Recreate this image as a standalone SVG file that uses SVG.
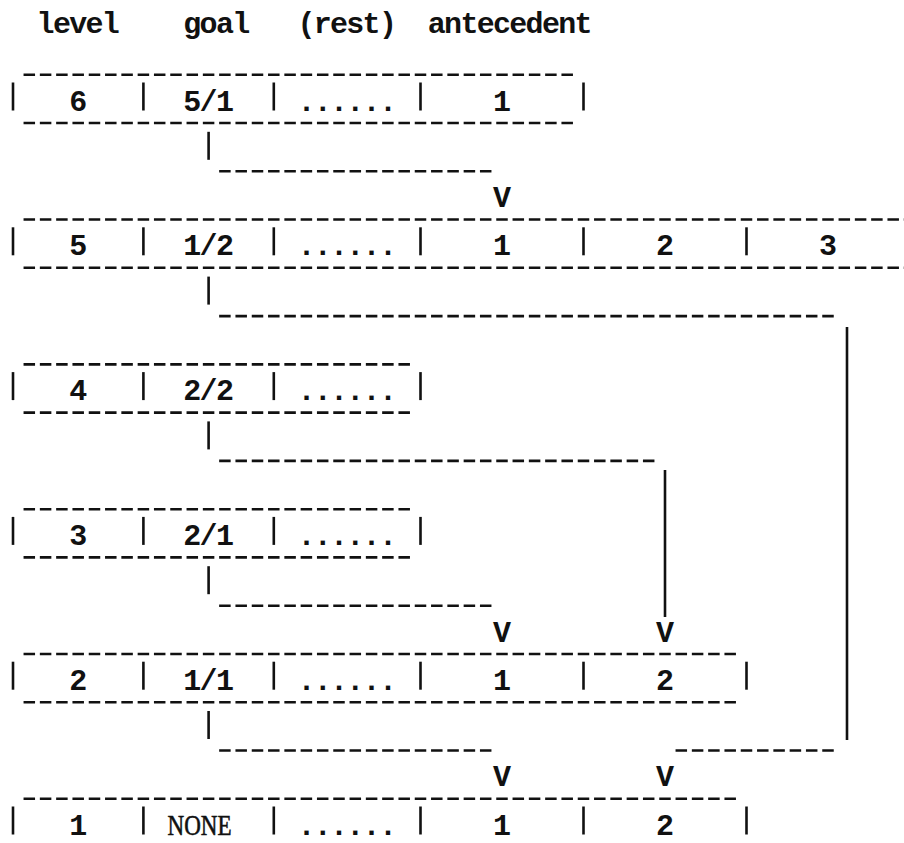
<svg xmlns="http://www.w3.org/2000/svg" width="904" height="843" viewBox="0 0 904 843">
  <style>
    .t { font-family: "Liberation Mono", "Courier New", monospace; font-size: 30px; font-weight: bold; letter-spacing: -1.7px; fill: #111; }
    .s { font-family: "Liberation Serif", "Times New Roman", serif; font-size: 29px; fill: #111; stroke: #111; stroke-width: 0.6; }
    .d { stroke: #111; stroke-width: 2.6; stroke-dasharray: 11.5 4.8; fill: none; }
    .b { stroke: #111; stroke-width: 2.6; fill: none; }
  </style>
  <rect width="904" height="843" fill="#fff"/>

  <!-- column headings -->
  <g id="header">
    <text class="t" x="36.6" y="33">level</text>
    <text class="t" x="183.3" y="33">goal</text>
    <text class="t" x="297.4" y="33">(rest)</text>
    <text class="t" x="427.8" y="33">antecedent</text>
  </g>

  <!-- level 6 -->
  <g id="level-6">
    <line class="d" x1="23.55" y1="74.7" x2="572.95" y2="74.7"/>
    <line class="d" x1="23.55" y1="123" x2="572.95" y2="123"/>
    <line class="b" x1="13" y1="82.5" x2="13" y2="110.5"/>
    <line class="b" x1="143.4" y1="82.5" x2="143.4" y2="110.5"/>
    <line class="b" x1="273.8" y1="82.5" x2="273.8" y2="110.5"/>
    <line class="b" x1="420.5" y1="82.5" x2="420.5" y2="110.5"/>
    <line class="b" x1="583.5" y1="82.5" x2="583.5" y2="110.5"/>
    <text class="t" x="69.2" y="110.5">6</text>
    <text class="t" x="183.3" y="110.5">5/1</text>
    <text class="t" x="297.4" y="110.5">......</text>
    <text class="t" x="493" y="110.5">1</text>
  </g>

  <!-- level 5 -->
  <g id="level-5">
    <line class="d" x1="23.55" y1="219.5" x2="904" y2="219.5"/>
    <line class="d" x1="23.55" y1="267.8" x2="904" y2="267.8"/>
    <line class="b" x1="13" y1="227.3" x2="13" y2="255.3"/>
    <line class="b" x1="143.4" y1="227.3" x2="143.4" y2="255.3"/>
    <line class="b" x1="273.8" y1="227.3" x2="273.8" y2="255.3"/>
    <line class="b" x1="420.5" y1="227.3" x2="420.5" y2="255.3"/>
    <line class="b" x1="583.5" y1="227.3" x2="583.5" y2="255.3"/>
    <line class="b" x1="746.5" y1="227.3" x2="746.5" y2="255.3"/>
    <text class="t" x="69.2" y="255.3">5</text>
    <text class="t" x="183.3" y="255.3">1/2</text>
    <text class="t" x="297.4" y="255.3">......</text>
    <text class="t" x="493" y="255.3">1</text>
    <text class="t" x="656" y="255.3">2</text>
    <text class="t" x="819" y="255.3">3</text>
  </g>

  <!-- level 4 -->
  <g id="level-4">
    <line class="d" x1="23.55" y1="364.4" x2="409.95" y2="364.4"/>
    <line class="d" x1="23.55" y1="412.6" x2="409.95" y2="412.6"/>
    <line class="b" x1="13" y1="372.1" x2="13" y2="400.1"/>
    <line class="b" x1="143.4" y1="372.1" x2="143.4" y2="400.1"/>
    <line class="b" x1="273.8" y1="372.1" x2="273.8" y2="400.1"/>
    <line class="b" x1="420.5" y1="372.1" x2="420.5" y2="400.1"/>
    <text class="t" x="69.2" y="400.1">4</text>
    <text class="t" x="183.3" y="400.1">2/2</text>
    <text class="t" x="297.4" y="400.1">......</text>
  </g>

  <!-- level 3 -->
  <g id="level-3">
    <line class="d" x1="23.55" y1="509.2" x2="409.95" y2="509.2"/>
    <line class="d" x1="23.55" y1="557.4" x2="409.95" y2="557.4"/>
    <line class="b" x1="13" y1="516.9" x2="13" y2="544.9"/>
    <line class="b" x1="143.4" y1="516.9" x2="143.4" y2="544.9"/>
    <line class="b" x1="273.8" y1="516.9" x2="273.8" y2="544.9"/>
    <line class="b" x1="420.5" y1="516.9" x2="420.5" y2="544.9"/>
    <text class="t" x="69.2" y="544.9">3</text>
    <text class="t" x="183.3" y="544.9">2/1</text>
    <text class="t" x="297.4" y="544.9">......</text>
  </g>

  <!-- level 2 -->
  <g id="level-2">
    <line class="d" x1="23.55" y1="654" x2="735.95" y2="654"/>
    <line class="d" x1="23.55" y1="702.2" x2="735.95" y2="702.2"/>
    <line class="b" x1="13" y1="661.7" x2="13" y2="689.7"/>
    <line class="b" x1="143.4" y1="661.7" x2="143.4" y2="689.7"/>
    <line class="b" x1="273.8" y1="661.7" x2="273.8" y2="689.7"/>
    <line class="b" x1="420.5" y1="661.7" x2="420.5" y2="689.7"/>
    <line class="b" x1="583.5" y1="661.7" x2="583.5" y2="689.7"/>
    <line class="b" x1="746.5" y1="661.7" x2="746.5" y2="689.7"/>
    <text class="t" x="69.2" y="689.7">2</text>
    <text class="t" x="183.3" y="689.7">1/1</text>
    <text class="t" x="297.4" y="689.7">......</text>
    <text class="t" x="493" y="689.7">1</text>
    <text class="t" x="656" y="689.7">2</text>
  </g>

  <!-- level 1 -->
  <g id="level-1">
    <line class="d" x1="23.55" y1="798.8" x2="735.95" y2="798.8"/>
    <line class="b" x1="13" y1="806.5" x2="13" y2="834.5"/>
    <line class="b" x1="143.4" y1="806.5" x2="143.4" y2="834.5"/>
    <line class="b" x1="273.8" y1="806.5" x2="273.8" y2="834.5"/>
    <line class="b" x1="420.5" y1="806.5" x2="420.5" y2="834.5"/>
    <line class="b" x1="583.5" y1="806.5" x2="583.5" y2="834.5"/>
    <line class="b" x1="746.5" y1="806.5" x2="746.5" y2="834.5"/>
    <text class="t" x="69.2" y="834.5">1</text>
    <text class="s" x="167.5" y="834.5" textLength="64" lengthAdjust="spacingAndGlyphs">NONE</text>
    <text class="t" x="297.4" y="834.5">......</text>
    <text class="t" x="493" y="834.5">1</text>
    <text class="t" x="656" y="834.5">2</text>
  </g>

  <!-- goal links between levels -->
  <g id="connectors">
    <line class="b" x1="208.6" y1="131.8" x2="208.6" y2="159.8"/>
    <line class="d" x1="219.15" y1="171.3" x2="491.45" y2="171.3"/>
    <text class="t" x="493" y="207">V</text>

    <line class="b" x1="208.6" y1="276.6" x2="208.6" y2="304.6"/>
    <line class="d" x1="219.15" y1="316.1" x2="833.75" y2="316.1"/>
    <line class="b" x1="847" y1="327" x2="847" y2="740"/>

    <line class="b" x1="208.6" y1="421.4" x2="208.6" y2="449.4"/>
    <line class="d" x1="219.15" y1="460.9" x2="654.45" y2="460.9"/>
    <line class="b" x1="665" y1="470" x2="665" y2="617"/>

    <line class="b" x1="208.6" y1="566.2" x2="208.6" y2="594.2"/>
    <line class="d" x1="219.15" y1="605.7" x2="491.45" y2="605.7"/>
    <text class="t" x="493" y="641.5">V</text>
    <text class="t" x="656" y="641.5">V</text>

    <line class="b" x1="208.6" y1="711" x2="208.6" y2="739"/>
    <line class="d" x1="219.15" y1="750.5" x2="491.45" y2="750.5"/>
    <line class="d" x1="675.55" y1="750.5" x2="833.75" y2="750.5"/>
    <text class="t" x="493" y="786.3">V</text>
    <text class="t" x="656" y="786.3">V</text>
  </g>
</svg>
